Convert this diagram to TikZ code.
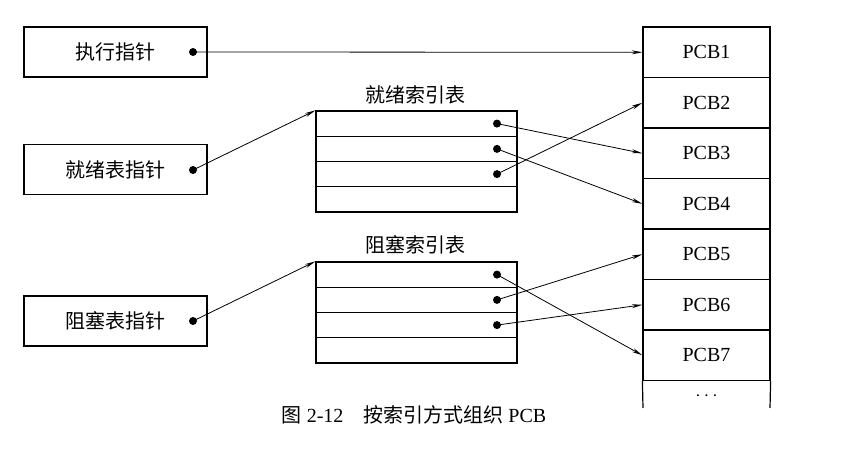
\documentclass[tikz,border=0pt]{standalone}
\usepackage{fontspec}
\setmainfont{Liberation Serif}
\newfontfamily\cjk{Noto Sans CJK SC}
\usetikzlibrary{arrows.meta}

\begin{document}
\begin{tikzpicture}[x=0.75pt,y=-0.75pt,
  every node/.style={font=\fontsize{15}{18}\selectfont,inner sep=0pt},
  ptrbox/.style={draw,line width=0.9pt,minimum width=137.25pt,minimum height=37.5pt},
  idxrow/.style={draw,line width=0.9pt,minimum width=150.75pt,minimum height=18.94pt},
  pcbcell/.style={draw,line width=0.9pt,minimum width=95.25pt,minimum height=37.875pt},
  dot/.style={circle,fill=black,minimum size=6pt},
  ptr/.style={line width=0.6pt,-{Stealth[length=8pt,width=3pt]}}]
\useasboundingbox (0,0) rectangle (864,466);
% pointer boxes
\node[ptrbox] (run) at (115.5, 52) {\cjk 执行指针};
\node[ptrbox] (rdy) at (115.5, 169.5) {\cjk 就绪表指针};
\node[ptrbox] (blk) at (115.5, 321) {\cjk 阻塞表指针};
\node[dot] (d0) at (193, 52) {};
\node[dot] (d1) at (193, 170) {};
\node[dot] (d2) at (193, 321) {};
% index tables
\node (trdy) at (415, 95) {\cjk 就绪索引表};
\node[idxrow] (r1) at (416.5, 123.6) {};
\node[idxrow] (r2) at (416.5, 148.9) {};
\node[idxrow] (r3) at (416.5, 174.1) {};
\node[idxrow] (r4) at (416.5, 199.4) {};
\node (tblk) at (415, 245) {\cjk 阻塞索引表};
\node[idxrow] (b1) at (416.5, 274.6) {};
\node[idxrow] (b2) at (416.5, 299.9) {};
\node[idxrow] (b3) at (416.5, 325.1) {};
\node[idxrow] (b4) at (416.5, 350.4) {};
\node[dot] (rd1) at (497, 123.6) {};
\node[dot] (rd2) at (497, 148.9) {};
\node[dot] (rd3) at (497, 174.1) {};
\node[dot] (bd1) at (497, 274.6) {};
\node[dot] (bd2) at (497, 299.9) {};
\node[dot] (bd3) at (497, 325.1) {};
% PCB column
\foreach \i in {1,...,7}
  \node[pcbcell] (p\i) at (706.5, 1.8+50.5*\i) {PCB\i};
\node (more) at (706.5, 396) {$\cdots$};
\coordinate (e1) at (643, 408);
\coordinate (e2) at (770, 408);
\draw[line width=0.9pt] (p7.south west) -- (e1);
\draw[line width=0.9pt] (p7.south east) -- (e2);
% caption
\node (cap) at (414, 415) {{\cjk 图} 2-12\quad{\cjk 按索引方式组织} PCB};
% pointers
\draw[ptr] (d0.center) -- (p1.west);
\draw[ptr] (d1.center) -- (r1.north west);
\draw[ptr] (d2.center) -- (b1.north west);
\draw[ptr] (rd1.center) -- (p3.west);
\draw[ptr] (rd2.center) -- (p4.west);
\draw[ptr] (rd3.center) -- (p2.west);
\draw[ptr] (bd1.center) -- (p7.west);
\draw[ptr] (bd2.center) -- (p5.west);
\draw[ptr] (bd3.center) -- (p6.west);
\end{tikzpicture}
\end{document}
